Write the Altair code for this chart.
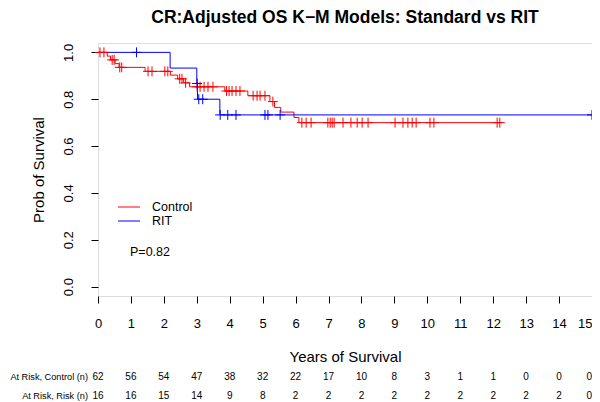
import bisect
import altair as alt
import pandas as pd

# ---------------- data ----------------
# Control (red) Kaplan-Meier steps: time (years) and survival after the step
control_step_t = [0.0, 0.28, 0.38, 0.52, 0.64, 1.43, 2.20, 2.42, 2.60, 2.78, 3.85, 4.55, 5.22, 5.36, 5.55, 5.95, 6.10]
control_step_s = [1.0, 0.984, 0.968, 0.952, 0.936, 0.919, 0.903, 0.887, 0.870, 0.853, 0.835, 0.815, 0.790, 0.765, 0.745, 0.722, 0.700]
control_end = 12.2
control_censor_t = [0.06, 0.18, 0.43, 0.49, 0.66, 0.72, 1.52, 1.64, 2.03, 2.12, 2.48, 2.55, 2.66,
                    3.01, 3.10, 3.22, 3.34, 3.49, 3.90, 3.98, 4.07, 4.19, 4.31,
                    4.71, 4.83, 4.92, 5.07, 5.31,
                    6.19, 6.32, 6.47, 6.98, 7.05, 7.11, 7.17, 7.44, 7.68, 7.87, 8.02, 8.20,
                    9.02, 9.26, 9.41, 9.54, 9.66, 10.08, 10.20, 12.12, 12.2]

# RIT (blue) steps
rit_step_t = [0.0, 2.19, 3.00, 3.02, 3.70]
rit_step_s = [1.0, 0.933, 0.867, 0.800, 0.733]
rit_end = 15.0
rit_censor_t = [1.17, 3.01, 3.06, 3.18, 3.71, 3.94, 4.19, 5.07, 5.16, 5.53, 15.0]

# at-risk table
risk_years = list(range(16))
risk_control = [62, 56, 54, 47, 38, 32, 22, 17, 10, 8, 3, 1, 1, 0, 0, 0]
risk_rit = [16, 16, 15, 14, 9, 8, 2, 2, 2, 2, 2, 2, 2, 2, 2, 0]
risk_labels = ["At Risk, Control (n)", "At Risk, Risk (n)"]

groups = ["Control", "RIT"]
colors = ["#FF0000", "#0000FF"]

title_text = "CR:Adjusted OS K\u2212M Models: Standard vs RIT"
p_text = "P=0.82"

# ---------------- build tables ----------------
def level(ts, ss, t):
    return ss[bisect.bisect_right(ts, t) - 1]

curve_rows = []
censor_rows = []
for g, ts, ss, end, cens in [("Control", control_step_t, control_step_s, control_end, control_censor_t),
                             ("RIT", rit_step_t, rit_step_s, rit_end, rit_censor_t)]:
    for t, s in zip(ts, ss):
        curve_rows.append({"group": g, "t": t, "s": s})
    curve_rows.append({"group": g, "t": end, "s": ss[-1]})
    for t in cens:
        censor_rows.append({"group": g, "t": t, "s": level(ts, ss, t)})

curves = pd.DataFrame(curve_rows)
censors = pd.DataFrame(censor_rows)

W, H = 494, 253
FONT = "Liberation Sans, Arial, Helvetica, sans-serif"
ROW_Y = [H + 81, H + 100]
LAST = risk_years[-1]

xscale = alt.Scale(domain=[0, 15], nice=False, zero=False)
yscale = alt.Scale(domain=[-0.04, 1.04], nice=False, zero=False)
xaxis = alt.Axis(values=risk_years, tickSize=7, domain=False, grid=False,
                 labelFontSize=13, labelPadding=14, labelColor="black", tickColor="black",
                 labelAlign={"condition": {"test": f"datum.value == {LAST}", "value": "right"}, "value": "center"},
                 title="Years of Survival", titleFontSize=15, titleFontWeight="normal",
                 titleColor="black", titleY=60, titleBaseline="middle", labelFont=FONT, titleFont=FONT)
yaxis = alt.Axis(values=[0, 0.2, 0.4, 0.6, 0.8, 1.0], format=".1f", tickSize=7, domain=False, grid=False,
                 labelFontSize=13, labelAngle=270, labelAlign="center", labelBaseline="bottom",
                 labelPadding=16, labelColor="black", tickColor="black",
                 title="Prob of Survival", titleFontSize=15, titleFontWeight="normal", titleColor="black",
                 titleX=-60, titleBaseline="middle", labelFont=FONT, titleFont=FONT)

color = alt.Color("group:N", scale=alt.Scale(domain=groups, range=colors), legend=None)
X = alt.X("t:Q", scale=xscale, axis=xaxis)
Y = alt.Y("s:Q", scale=yscale, axis=yaxis)

lines = alt.Chart(curves).mark_line(interpolate="step-after", strokeWidth=1).encode(
    x=X, y=Y, color=color, detail="group:N")

marks = alt.Chart(censors).mark_point(shape="M-1,0L1,0M0,-1L0,1", filled=False, size=100,
                                      strokeWidth=1, opacity=1).encode(x=X, y=Y, color=color)

layers = [lines, marks]

for i, vals in enumerate([risk_control, risk_rit]):
    df = pd.DataFrame({"t": risk_years, "n": [str(v) for v in vals]})
    layers.append(alt.Chart(df[df.t < LAST]).mark_text(fontSize=10, font=FONT, color="black",
                                                       baseline="middle").encode(
        x=X, y=alt.value(ROW_Y[i]), text="n:N"))
    layers.append(alt.Chart(df[df.t == LAST]).mark_text(fontSize=10, font=FONT, color="black", align="right",
                                                        baseline="middle").encode(
        x=X, y=alt.value(ROW_Y[i]), text="n:N"))
    layers.append(alt.Chart(pd.DataFrame({"label": [risk_labels[i]]})).mark_text(
        fontSize=9.2, font=FONT, color="black", align="right", baseline="middle").encode(
        x=alt.value(-10), y=alt.value(ROW_Y[i]), text="label:N"))

layers.append(alt.Chart(pd.DataFrame({"label": [title_text]})).mark_text(
    fontSize=17.5, font=FONT, fontWeight="bold", color="black", align="center", baseline="alphabetic").encode(
    x=alt.value(W / 2), y=alt.value(-20), text="label:N"))

LEG_Y = [164, 178]
for i, g in enumerate(groups):
    gdf = pd.DataFrame({"group": [g]})
    layers.append(alt.Chart(gdf).mark_rule(strokeWidth=1).encode(
        x=alt.value(20), x2=alt.value(42), y=alt.value(LEG_Y[i]), color=alt.value(colors[i])))
    layers.append(alt.Chart(gdf).mark_text(fontSize=12.5, font=FONT, color="black", align="left",
                                           baseline="middle").encode(
        x=alt.value(54), y=alt.value(LEG_Y[i]), text="group:N"))

layers.append(alt.Chart(pd.DataFrame({"label": [p_text]})).mark_text(
    fontSize=12.5, font=FONT, color="black", align="center", baseline="middle").encode(
    x=alt.value(52), y=alt.value(209), text="label:N"))

chart = alt.layer(*layers).properties(
    width=W, height=H,
    autosize=alt.AutoSizeParams(type="none"),
    padding={"left": 90, "top": 35, "right": 0, "bottom": 106},
).configure_view(stroke="black", strokeWidth=1).configure(background="white")

chart.save("out.html", embed_options={"renderer": "svg", "actions": False})
